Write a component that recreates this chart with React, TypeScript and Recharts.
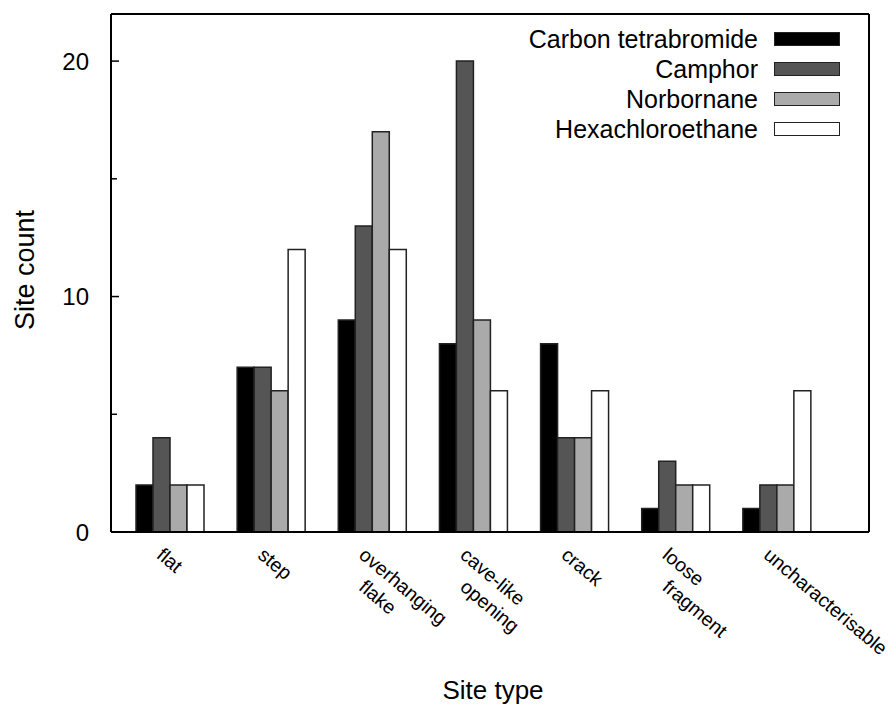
import { BarChart, Bar, XAxis, YAxis, Legend } from "recharts";

const siteTypes = [
  "flat",
  "step",
  "overhanging\nflake",
  "cave-like\nopening",
  "crack",
  "loose\nfragment",
  "uncharacterisable",
];

const carbonTetrabromide = [2, 7, 9, 8, 8, 1, 1];
const camphor = [4, 7, 13, 20, 4, 3, 2];
const norbornane = [2, 6, 17, 9, 4, 2, 2];
const hexachloroethane = [2, 12, 12, 6, 6, 2, 6];

const yTicks = [0, 5, 10, 15, 20];
const yLabelled = [0, 10, 20];

const seriesList = [
  { key: "ctb", name: "Carbon tetrabromide", fill: "#000000" },
  { key: "camphor", name: "Camphor", fill: "#555555" },
  { key: "norbornane", name: "Norbornane", fill: "#aaaaaa" },
  { key: "hexa", name: "Hexachloroethane", fill: "#ffffff" },
];

const data = siteTypes.map((type, i) => ({
  type,
  ctb: carbonTetrabromide[i],
  camphor: camphor[i],
  norbornane: norbornane[i],
  hexa: hexachloroethane[i],
}));

const FONT = '"Liberation Sans", Arial, Helvetica, sans-serif';

function XTick(props: any) {
  const { x, y, payload } = props;
  const lines = String(payload.value).split("\n");
  const x0 = x - 14;
  return (
    <g>
      {lines.map((line, i) => {
        const y0 = y + 25 + i * 32;
        return (
          <text
            key={i}
            x={x0}
            y={y0}
            transform={`rotate(40, ${x0}, ${y0})`}
            fontSize={19.5}
            fontFamily={FONT}
            fill="#000"
          >
            {line}
          </text>
        );
      })}
    </g>
  );
}

function YTick(props: any) {
  const { x, y, payload } = props;
  const major = yLabelled.includes(payload.value);
  return (
    <g>
      {payload.value !== 0 && (
        <line x1={x} x2={x + (major ? 8 : 6)} y1={y} y2={y} stroke="#000" strokeWidth={1.5} />
      )}
      {major && (
        <text
          x={x - 22}
          y={y}
          textAnchor="end"
          dominantBaseline="central"
          fontSize={24}
          fontFamily={FONT}
          fill="#000"
        >
          {payload.value}
        </text>
      )}
    </g>
  );
}

function LegendBox() {
  return (
    <div style={{ fontFamily: FONT, fontSize: 25, color: "#000" }}>
      {seriesList.map((s) => (
        <div
          key={s.key}
          style={{
            display: "flex",
            justifyContent: "flex-end",
            alignItems: "center",
            height: 30,
            paddingRight: 56,
          }}
        >
          <span style={{ lineHeight: "30px" }}>{s.name}</span>
          <span
            style={{
              display: "inline-block",
              width: 64,
              height: 12,
              marginLeft: 16,
              background: s.fill,
              border: "1.5px solid #222",
            }}
          />
        </div>
      ))}
    </div>
  );
}

export default function App() {
  return (
    <div style={{ position: "absolute", left: 0, top: 0, width: 896, height: 707, background: "#fff" }}>
      <BarChart
        width={896}
        height={707}
        data={data}
        margin={{ top: 13, right: 26, bottom: 115, left: 51 }}
        barSize={17}
        barGap={0}
      >
        <XAxis
          dataKey="type"
          height={60}
          padding={{ left: 8, right: 42 }}
          tickSize={0}
          tickMargin={0}
          tick={<XTick />}
          interval={0}
          axisLine={{ stroke: "#000", strokeWidth: 2 }}
        />
        <XAxis
          xAxisId="top"
          orientation="top"
          dataKey="type"
          height={1}
          tick={false}
          tickLine={false}
          axisLine={{ stroke: "#000", strokeWidth: 2 }}
        />
        <YAxis
          width={60}
          domain={[0, 22]}
          ticks={yTicks}
          tickSize={0}
          tickMargin={0}
          tick={<YTick />}
          interval={0}
          axisLine={{ stroke: "#000", strokeWidth: 2 }}
        />
        <YAxis
          yAxisId="right"
          orientation="right"
          width={1}
          domain={[0, 22]}
          tick={false}
          tickLine={false}
          axisLine={{ stroke: "#000", strokeWidth: 2 }}
        />
        <Legend
          layout="vertical"
          align="center"
          verticalAlign="middle"
          wrapperStyle={{ top: 24, left: 0, width: 896 }}
          content={<LegendBox />}
        />
        {seriesList.map((s) => (
          <Bar
            key={s.key}
            dataKey={s.key}
            name={s.name}
            fill={s.fill}
            stroke="#222"
            strokeWidth={1.5}
            isAnimationActive={false}
          />
        ))}
      </BarChart>
      <div
        style={{
          position: "absolute",
          left: 25,
          top: 270,
          transform: "translate(-50%, -50%) rotate(-90deg)",
          fontFamily: FONT,
          fontSize: 27,
          whiteSpace: "nowrap",
        }}
      >
        Site count
      </div>
      <div
        style={{
          position: "absolute",
          left: 493,
          top: 690,
          transform: "translate(-50%, -50%)",
          fontFamily: FONT,
          fontSize: 26,
          whiteSpace: "nowrap",
        }}
      >
        Site type
      </div>
    </div>
  );
}
